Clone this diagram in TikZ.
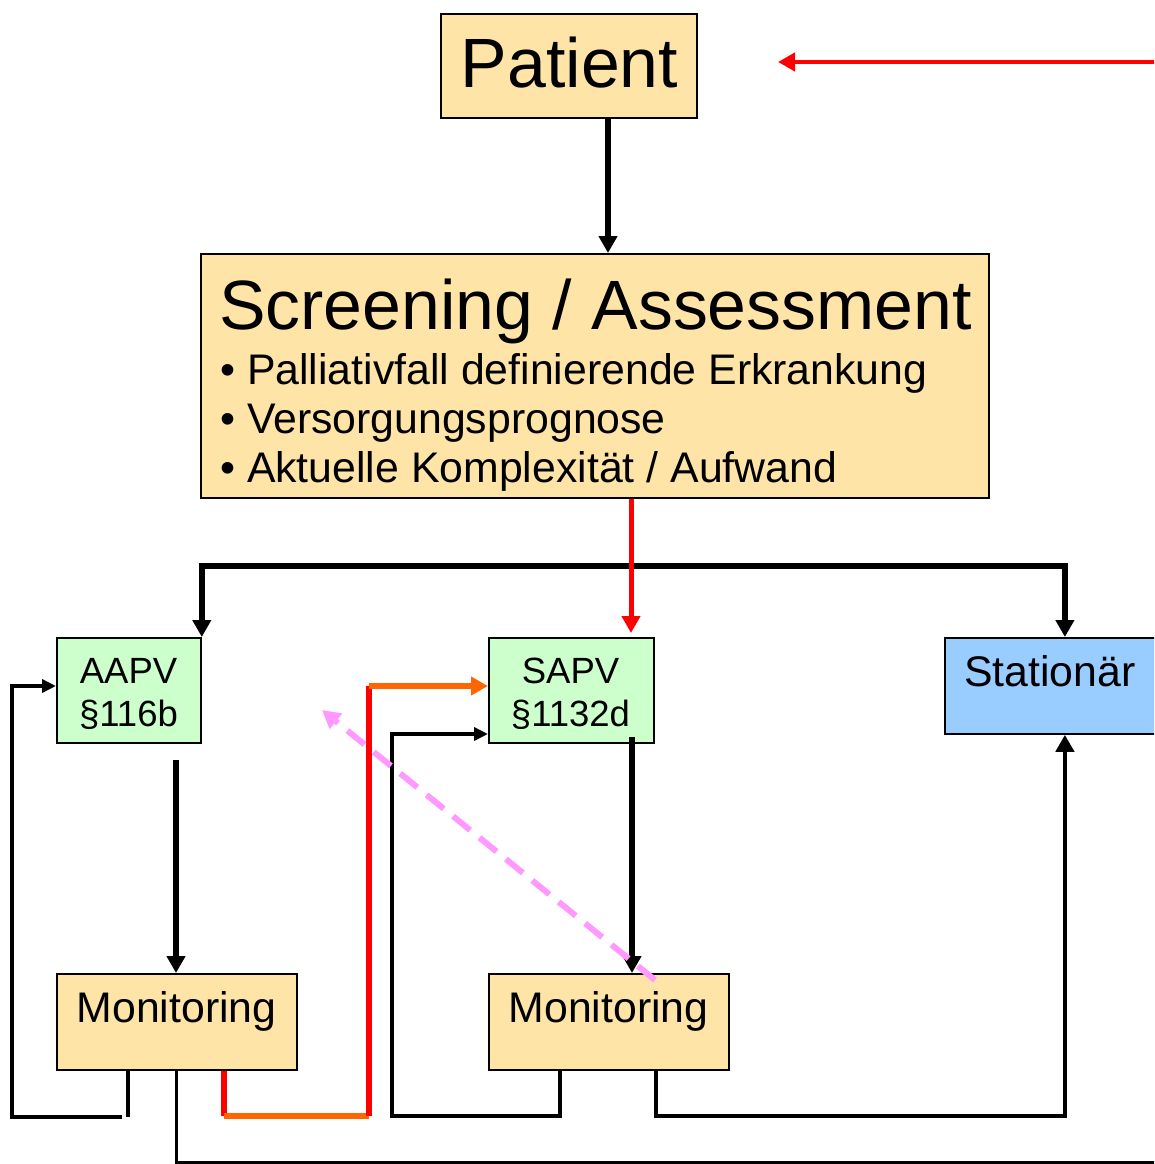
\documentclass[tikz,border=0pt]{standalone}
\usepackage{fontspec}
\setmainfont{Liberation Sans}
\usetikzlibrary{arrows.meta}
\definecolor{peach}{HTML}{FFE4A8}
\definecolor{lgreen}{HTML}{CCFFCC}
\definecolor{lblue}{HTML}{99CCFF}
\definecolor{pinkv}{HTML}{FF99FF}
\definecolor{orng}{HTML}{FF6600}
\tikzset{
  box/.style={draw=black, line width=1.8pt, inner sep=0pt, anchor=north west},
  txt/.style={inner sep=0pt},
  huge/.style={font=\fontsize{69.8}{80}\selectfont},
  big/.style={font=\fontsize{42.8}{49}\selectfont},
  med/.style={font=\fontsize{36.5}{43}\selectfont},
  bigtip/.style={-{Triangle[length=17pt,width=18pt]}},
  smalltip/.style={-{Triangle[length=14pt,width=13pt]}},
  bigarrow/.style={line width=5.5pt, bigtip},
  loopline/.style={line width=4.5pt},
  redline/.style={red, line width=5.5pt},
  orline/.style={orng, line width=5.5pt},
  pinkdash/.style={pinkv, line width=6pt, dash pattern=on 22pt off 12pt, -{Triangle[length=18pt,width=19pt]}},
}
\begin{document}
\begin{tikzpicture}[x=1pt,y=-1pt]
\useasboundingbox (0,0) rectangle (1154,1164);
\clip (0,0) rectangle (1154,1164);

% boxes
\node[box, fill=peach, minimum width=256, minimum height=104] (patient) at (440,13) {};
\node[box, fill=peach, minimum width=788, minimum height=244] (screen) at (200,253) {};
\node[box, fill=lgreen, minimum width=144, minimum height=105] (aapv) at (56,637) {};
\node[box, fill=lgreen, minimum width=165, minimum height=105] (sapv) at (488,637) {};
\node[box, fill=lblue, minimum width=240, minimum height=96] (stat) at (944,637) {};
\node[box, fill=peach, minimum width=240, minimum height=96] (mon1) at (56,973) {};
\node[box, fill=peach, minimum width=240, minimum height=96] (mon2) at (488,973) {};

% texts
\node[txt, huge, anchor=base] (patientT) at (569.5,87) {Patient};
\node[txt, huge, anchor=base west] (screenT) at (219,329) {Screening / Assessment};
\node[txt, big, anchor=base west] (b1) at (220,384) {• Palliativfall definierende Erkrankung};
\node[txt, big, anchor=base west] (b2) at (220,433) {• Versorgungsprognose};
\node[txt, big, anchor=base west] (b3) at (220,482) {• Aktuelle Komplexität / Aufwand};
\node[txt, med, anchor=base] (aapv1) at (128.5,683) {AAPV};
\node[txt, med, anchor=base] (aapv2) at (128.5,726) {§116b};
\node[txt, med, anchor=base] (sapv1) at (570.5,683) {SAPV};
\node[txt, med, anchor=base] (sapv2) at (570.5,726) {§1132d};
\node[txt, big, anchor=base west] (statT) at (964,686) {Stationär};
\node[txt, big, anchor=base] (mon1T) at (176.5,1022) {Monitoring};
\node[txt, big, anchor=base] (mon2T) at (608.5,1022) {Monitoring};

% helper coordinates
\coordinate (x608) at (608,0);
\coordinate (x631) at (631,0);
\coordinate (x632) at (632,0);
\coordinate (x176) at (176,0);
\coordinate (x128) at (128,0);
\coordinate (x12) at (12,0);
\coordinate (x224) at (224,0);
\coordinate (x369) at (369,0);
\coordinate (x392) at (392,0);
\coordinate (x560) at (560,0);
\coordinate (x656) at (656,0);
\coordinate (y686) at (0,686);
\coordinate (y734) at (0,734);
\coordinate (y1116) at (0,1116);
\coordinate (y1117) at (0,1117);
\coordinate (bar) at (632,566);
\coordinate (redin) at (1160,62);
\coordinate (redtip) at (778,62);
\coordinate (lstart) at (122,1117);
\coordinate (exitR) at (1160,1162);
\coordinate (pinkS) at (655,980);
\coordinate (pinkE) at (322,710);

% connectors
\draw[bigarrow] (patient.south -| x608) -- (screen.north -| x608);
\draw[red, line width=4.5pt, bigtip] (redin) -- (redtip);

\draw[bigarrow, line width=6pt] (bar) -| (aapv.north east);
\draw[bigarrow, line width=6pt] (bar) -| (stat.north);
\draw[red, line width=5pt, bigtip, shorten >=4pt] (screen.south -| x631) -- (sapv.north -| x631);

\draw[bigarrow, shorten <=16pt] (aapv.south -| x176) -- (mon1.north -| x176);
\draw[bigarrow, shorten <=-7pt] (sapv.south -| x632) -- (mon2.north -| x632);

% left loop back to AAPV
\draw[loopline] (mon1.south -| x128) -- (x128 |- y1117);
\draw[line width=4pt, smalltip] (lstart) -| (x12 |- y686) -- (aapv.west |- y686);

% exit at the bottom
\draw[line width=3pt] (mon1.south -| x176) |- (exitR);

% red / orange route to SAPV
\draw[redline] (mon1.south -| x224) -- (x224 |- y1116);
\draw[orline] (x224 |- y1116) -- (x369 |- y1116);
\draw[redline] (x369 |- y1116) -- (x369 |- y686);
\draw[orline, bigtip] (x369 |- y686) -- (sapv.west |- y686);

% Monitoring 2 loop back to SAPV
\draw[line width=3.8pt, smalltip] (mon2.south -| x560) |- (x392 |- y1116) |- (sapv.west |- y734);

% Monitoring 2 to Stationaer
\draw[loopline, bigtip] (mon2.south -| x656) |- (stat.south |- y1116) -- (stat.south);

% pink dashed
\draw[pinkdash] (pinkS) -- (pinkE);
\end{tikzpicture}
\end{document}
